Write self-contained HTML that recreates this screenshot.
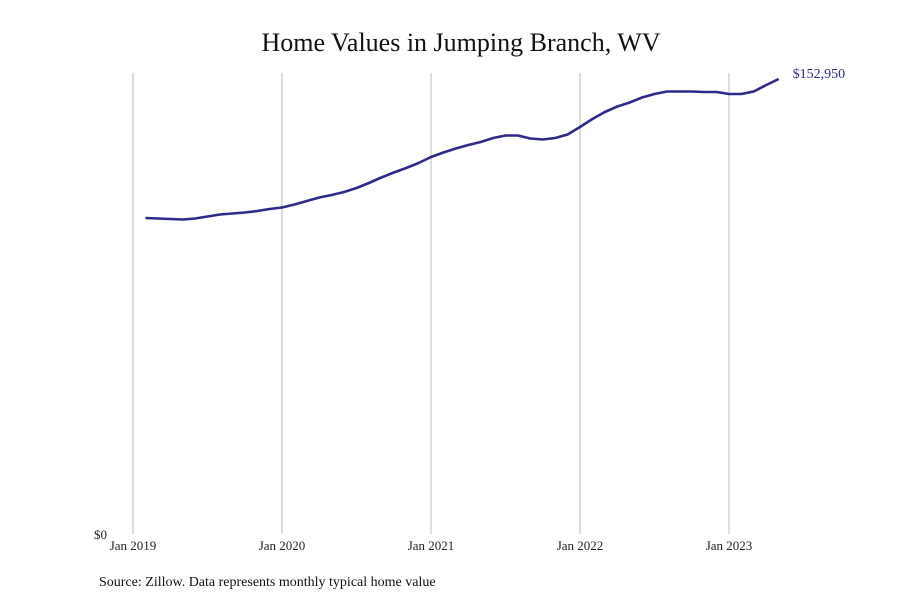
<!DOCTYPE html>
<html><head><meta charset="utf-8"><style>
body{margin:0;background:#fff;}
svg{display:block;font-family:"Liberation Serif",serif;}
</style></head><body>
<svg id="chart" width="900" height="600" viewBox="0 0 900 600">
<text x="461" y="51" text-anchor="middle" font-size="26" fill="#111">Home Values in Jumping Branch, WV</text>
<g id="grid"></g>
<g id="xlabels"></g>
<text x="94" y="539" font-size="13" fill="#222">$0</text>
<path id="line" fill="none" stroke="#2e2a8c" stroke-width="2.6" stroke-linejoin="round"/>
<text id="endlabel" x="793" y="78" font-size="14" fill="#2e2a8c"></text>
<text x="99" y="586" font-size="14" fill="#111">Source: Zillow. Data represents monthly typical home value</text>
</svg>
<script>
const yearLabels=["Jan 2019","Jan 2020","Jan 2021","Jan 2022","Jan 2023"];
const startMonthIndex=1; // Feb 2019
const values=[106223,106055,105887,105719,106055,106727,107400,107736,108072,108576,109249,
109753,110761,111938,113114,113955,114963,116308,117989,119837,121518,123031,124712,
126729,128241,129586,130762,131771,133115,133956,133956,132947,132611,133115,134292,
136813,139502,141855,143704,145049,146729,147906,148746,148746,148746,148578,148578,
147906,147906,148746,150931,152950];
const x0=133,pxPerMonth=149/12;
const x=m=>x0+m*pxPerMonth;
const y=v=>534-v*(455/152950);
const ns="http://www.w3.org/2000/svg";
const grid=document.getElementById('grid'),xl=document.getElementById('xlabels');
yearLabels.forEach((lab,i)=>{
  const gx=x(i*12);
  const l=document.createElementNS(ns,'line');
  
  
  l.setAttribute('x1',gx);l.setAttribute('x2',gx);l.setAttribute('y1',73);l.setAttribute('y2',534);
  l.setAttribute('stroke','#bbb');l.setAttribute('stroke-width','1');
  grid.appendChild(l);
  const t=document.createElementNS(ns,'text');
  
  
  t.setAttribute('x',gx);t.setAttribute('y',550);t.setAttribute('text-anchor','middle');
  t.setAttribute('font-size','13');t.setAttribute('fill','#222');t.textContent=lab;
  xl.appendChild(t);
});
document.getElementById('line').setAttribute('d',values.map((v,i)=>(i?'L':'M')+x(startMonthIndex+i).toFixed(1)+','+y(v).toFixed(1)).join(''));
const last=values[values.length-1];
const el=document.getElementById('endlabel');
el.textContent='$'+last.toLocaleString('en-US');
el.setAttribute('x',x(startMonthIndex+values.length-1)+14);
el.setAttribute('y',y(last)-1);
</script>
</body></html>
